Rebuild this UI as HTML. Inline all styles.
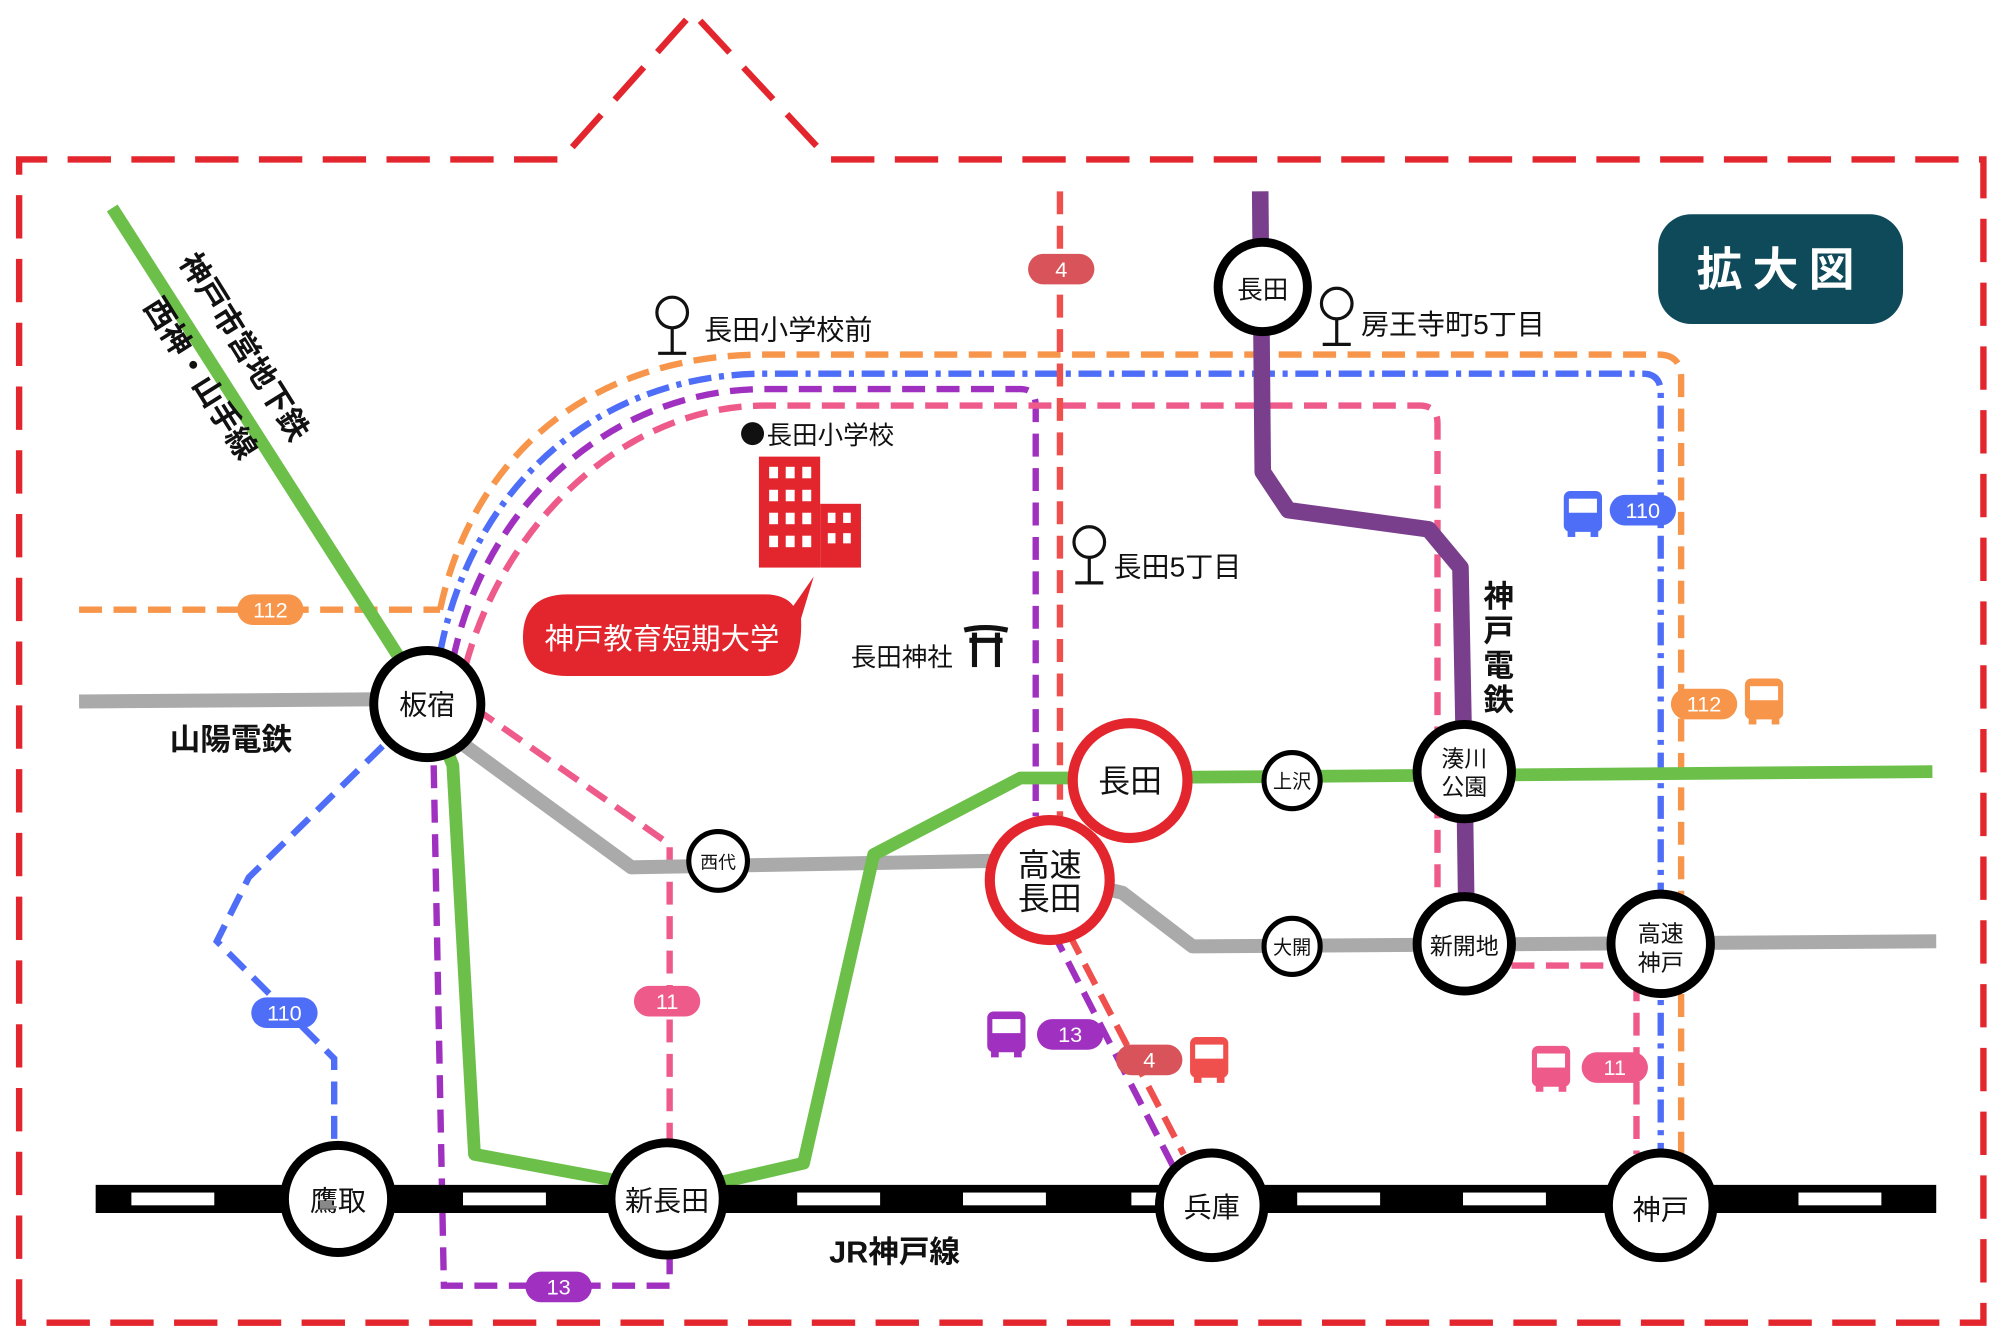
<!DOCTYPE html>
<html><head><meta charset="utf-8"><style>
html,body{margin:0;padding:0;background:#fff;}
svg{display:block;}
text{font-family:"Liberation Sans","Noto Sans CJK JP",sans-serif;}
</style></head><body>
<svg width="2000" height="1340" viewBox="0 0 1568 1050.6" preserveAspectRatio="none" xmlns="http://www.w3.org/2000/svg">
<rect width="1568" height="1051" fill="#fff"/>
<!-- border -->
<path d="M15,1037 L15,125 L440,125 L543,10 L650,125 L1555,125 L1555,1037 Z" fill="none" stroke="#e3262d" stroke-width="5" stroke-dasharray="34 16"/>
<!-- badge -->
<rect x="1300" y="168" width="192" height="86" rx="26" fill="#0f4a5a"/>
<text x="1396" y="224" font-size="36" font-weight="bold" fill="#fff" text-anchor="middle" letter-spacing="8">拡大図</text>

<!-- dashed bus routes -->
<g fill="none" stroke-width="5">
<path d="M62,478 L345,478" stroke="#f7954a" stroke-dasharray="18 9"/>
<path d="M345,478 C370,360 460,278 600,278 L1300,278 Q1318,278 1318,296 L1318,905" stroke="#f7954a" stroke-dasharray="18 9"/>
<path d="M345,512 C370,380 470,293 600,293 L1288,293 Q1302,293 1302,308 L1302,905" stroke="#4f6ef7" stroke-dasharray="18 6 4 6"/>
<path d="M300,585 L195,688 L170,738 L262,830 L262,895" stroke="#4f6ef7" stroke-dasharray="18 9"/>
<path d="M355,518 C380,395 480,305 600,305 L800,305 Q812,305 812,318 L812,640" stroke="#a030c0" stroke-dasharray="18 9"/>
<path d="M340,600 L348,1008 L525,1008 L525,985" stroke="#a030c0" stroke-dasharray="18 9"/>
<path d="M825,730 L920,915" stroke="#a030c0" stroke-dasharray="18 9"/>
<path d="M365,522 C395,410 490,318 600,318 L1113,318 Q1127,318 1127,332 L1127,700" stroke="#ee5a8a" stroke-dasharray="18 9"/>
<path d="M372,555 L525,662 L525,900" stroke="#ee5a8a" stroke-dasharray="18 9"/>
<path d="M1185,757 L1283,757 L1283,905" stroke="#ee5a8a" stroke-dasharray="18 9"/>
<path d="M831,150 L831,650" stroke="#f0504d" stroke-dasharray="18 9"/>
<path d="M838,732 L928,905" stroke="#f0504d" stroke-dasharray="18 9"/>
</g>

<!-- rail lines -->
<path d="M62,550 L335,548 L365,585 L495,680 L775,675 L880,700 L935,742 L1518,738" fill="none" stroke="#aaa" stroke-width="11" stroke-linejoin="round"/>
<path d="M88,163 L335,550 L355,600 L372,905 L480,925 L530,935 L630,912 L685,670 L800,610 L845,610 L1515,605" fill="none" stroke="#6cc04a" stroke-width="10" stroke-linejoin="round"/>
<path d="M988,150 L990,370 L1010,400 L1120,415 L1145,445 L1148,600 L1150,740" fill="none" stroke="#7a3f8c" stroke-width="13" stroke-linejoin="round"/>
<line x1="75" y1="940" x2="1518" y2="940" stroke="#000" stroke-width="22"/>
<g fill="#fff">
<rect x="103" y="935" width="65" height="10"/><rect x="363" y="935" width="65" height="10"/>
<rect x="625" y="935" width="65" height="10"/><rect x="755" y="935" width="65" height="10"/>
<rect x="887" y="935" width="25" height="10"/><rect x="1017" y="935" width="65" height="10"/>
<rect x="1147" y="935" width="65" height="10"/><rect x="1410" y="935" width="65" height="10"/>
</g>

<!-- pills -->
<g font-size="17" fill="#fff" text-anchor="middle">
<rect x="806" y="199" width="52" height="24" rx="12" fill="#d9545a"/><text x="832" y="217">4</text>
<rect x="186" y="466" width="52" height="24" rx="12" fill="#f7954a"/><text x="212" y="484">112</text>
<rect x="197" y="782" width="52" height="24" rx="12" fill="#4f6ef7"/><text x="223" y="800">110</text>
<rect x="497" y="773" width="52" height="24" rx="12" fill="#ee5a8a"/><text x="523" y="791">11</text>
<rect x="412" y="997" width="52" height="24" rx="12" fill="#a030c0"/><text x="438" y="1015">13</text>
<rect x="813" y="799" width="52" height="24" rx="12" fill="#a030c0"/><text x="839" y="817">13</text>
<rect x="875" y="819" width="52" height="24" rx="12" fill="#d9545a"/><text x="901" y="837">4</text>
<rect x="1262" y="388" width="52" height="24" rx="12" fill="#4f6ef7"/><text x="1288" y="406">110</text>
<rect x="1310" y="540" width="52" height="24" rx="12" fill="#f7954a"/><text x="1336" y="558">112</text>
<rect x="1240" y="825" width="52" height="24" rx="12" fill="#ee5a8a"/><text x="1266" y="843">11</text>
</g>

<!-- bus icons -->
<g>
<g transform="translate(1226,385)" fill="#4f6ef7"><rect width="30" height="32" rx="5"/><rect x="4" y="6" width="22" height="11" fill="#fff"/><rect x="3" y="30" width="6" height="6"/><rect x="21" y="30" width="6" height="6"/></g>
<g transform="translate(1368,532)" fill="#f7954a"><rect width="30" height="32" rx="5"/><rect x="4" y="6" width="22" height="11" fill="#fff"/><rect x="3" y="30" width="6" height="6"/><rect x="21" y="30" width="6" height="6"/></g>
<g transform="translate(774,793)" fill="#a030c0"><rect width="30" height="32" rx="5"/><rect x="4" y="6" width="22" height="11" fill="#fff"/><rect x="3" y="30" width="6" height="6"/><rect x="21" y="30" width="6" height="6"/></g>
<g transform="translate(933,813)" fill="#f0504d"><rect width="30" height="32" rx="5"/><rect x="4" y="6" width="22" height="11" fill="#fff"/><rect x="3" y="30" width="6" height="6"/><rect x="21" y="30" width="6" height="6"/></g>
<g transform="translate(1201,820)" fill="#ee5a8a"><rect width="30" height="32" rx="5"/><rect x="4" y="6" width="22" height="11" fill="#fff"/><rect x="3" y="30" width="6" height="6"/><rect x="21" y="30" width="6" height="6"/></g>
</g>

<!-- pins -->
<g fill="#fff" stroke="#111" stroke-width="2.5">
<circle cx="527" cy="245" r="12"/><line x1="527" y1="257" x2="527" y2="277"/><line x1="516" y1="277" x2="538" y2="277"/>
<circle cx="1048" cy="238" r="12"/><line x1="1048" y1="250" x2="1048" y2="270"/><line x1="1037" y1="270" x2="1059" y2="270"/>
<circle cx="854" cy="425" r="12"/><line x1="854" y1="437" x2="854" y2="457"/><line x1="843" y1="457" x2="865" y2="457"/>
</g>
<g font-size="22" fill="#111">
<text x="552" y="266">長田小学校前</text>
<text x="1067" y="262">房王寺町5丁目</text>
<text x="873" y="452">長田5丁目</text>
<circle cx="590" cy="340" r="9" fill="#111"/>
<text x="601" y="348" font-size="20">長田小学校</text>
<text x="667" y="522" font-size="20">長田神社</text>
</g>
<!-- torii -->
<g stroke="#111" stroke-width="4" fill="none"><path d="M756,494 Q772,490 790,494"/><line x1="760" y1="502" x2="786" y2="502"/><line x1="764" y1="496" x2="764" y2="523"/><line x1="782" y1="496" x2="782" y2="523"/></g>

<!-- building -->
<g fill="#e3262d"><rect x="595" y="358" width="48" height="87"/><rect x="643" y="395" width="32" height="50"/></g>
<g fill="#fff">
<rect x="603" y="366" width="7" height="9"/><rect x="616" y="366" width="7" height="9"/><rect x="629" y="366" width="7" height="9"/>
<rect x="603" y="384" width="7" height="9"/><rect x="616" y="384" width="7" height="9"/><rect x="629" y="384" width="7" height="9"/>
<rect x="603" y="402" width="7" height="9"/><rect x="616" y="402" width="7" height="9"/><rect x="629" y="402" width="7" height="9"/>
<rect x="603" y="420" width="7" height="9"/><rect x="616" y="420" width="7" height="9"/><rect x="629" y="420" width="7" height="9"/>
<rect x="649" y="402" width="6" height="8"/><rect x="661" y="402" width="6" height="8"/><rect x="649" y="418" width="6" height="8"/><rect x="661" y="418" width="6" height="8"/>
</g>
<path d="M410,500 Q410,466 445,466 L600,466 Q615,466 622,475 L638,452 L628,485 Q630,530 600,530 L445,530 Q410,530 410,500 Z" fill="#e3262d"/>
<text x="519" y="509" font-size="23" fill="#fff" text-anchor="middle">神戸教育短期大学</text>

<!-- line labels -->
<g font-size="24" font-weight="bold" fill="#111">
<text transform="translate(140,205) rotate(58)">神戸市営地下鉄</text>
<text transform="translate(112,240) rotate(58)">西神・山手線</text>
<text x="133" y="588">山陽電鉄</text>
<text x="650" y="990">JR神戸線</text>
<text x="1163" y="476">神</text><text x="1163" y="503">戸</text><text x="1163" y="530">電</text><text x="1163" y="557">鉄</text>
</g>

<!-- stations -->
<g fill="#fff" stroke="#000" stroke-width="7">
<circle cx="335" cy="552" r="42"/><circle cx="265" cy="940" r="42"/><circle cx="523" cy="940" r="44"/>
<circle cx="950" cy="945" r="41"/><circle cx="1302" cy="945" r="41"/><circle cx="990" cy="225" r="35"/>
<circle cx="1148" cy="605" r="37"/><circle cx="1148" cy="740" r="37"/><circle cx="1302" cy="740" r="39"/>
</g>
<g fill="#fff" stroke="#000" stroke-width="4">
<circle cx="1013" cy="612" r="22"/><circle cx="1013" cy="742" r="22"/><circle cx="563" cy="675" r="23"/>
</g>
<g fill="#fff" stroke="#e3262d" stroke-width="8">
<circle cx="886" cy="612" r="45"/><circle cx="823" cy="690" r="47"/>
</g>
<g fill="#111" text-anchor="middle">
<text x="335" y="560" font-size="22">板宿</text>
<text x="265" y="949" font-size="22">鷹取</text>
<text x="523" y="949" font-size="22">新長田</text>
<text x="950" y="954" font-size="22">兵庫</text>
<text x="1302" y="956" font-size="22">神戸</text>
<text x="990" y="234" font-size="20">長田</text>
<text x="1148" y="601" font-size="18">湊川</text><text x="1148" y="623" font-size="18">公園</text>
<text x="1148" y="748" font-size="18">新開地</text>
<text x="1302" y="738" font-size="18">高速</text><text x="1302" y="761" font-size="18">神戸</text>
<text x="1013" y="618" font-size="15">上沢</text>
<text x="1013" y="748" font-size="15">大開</text>
<text x="563" y="681" font-size="14">西代</text>
<text x="886" y="621" font-size="25">長田</text>
<text x="823" y="687" font-size="25">高速</text><text x="823" y="713" font-size="25">長田</text>
</g>
</svg>
</body></html>
